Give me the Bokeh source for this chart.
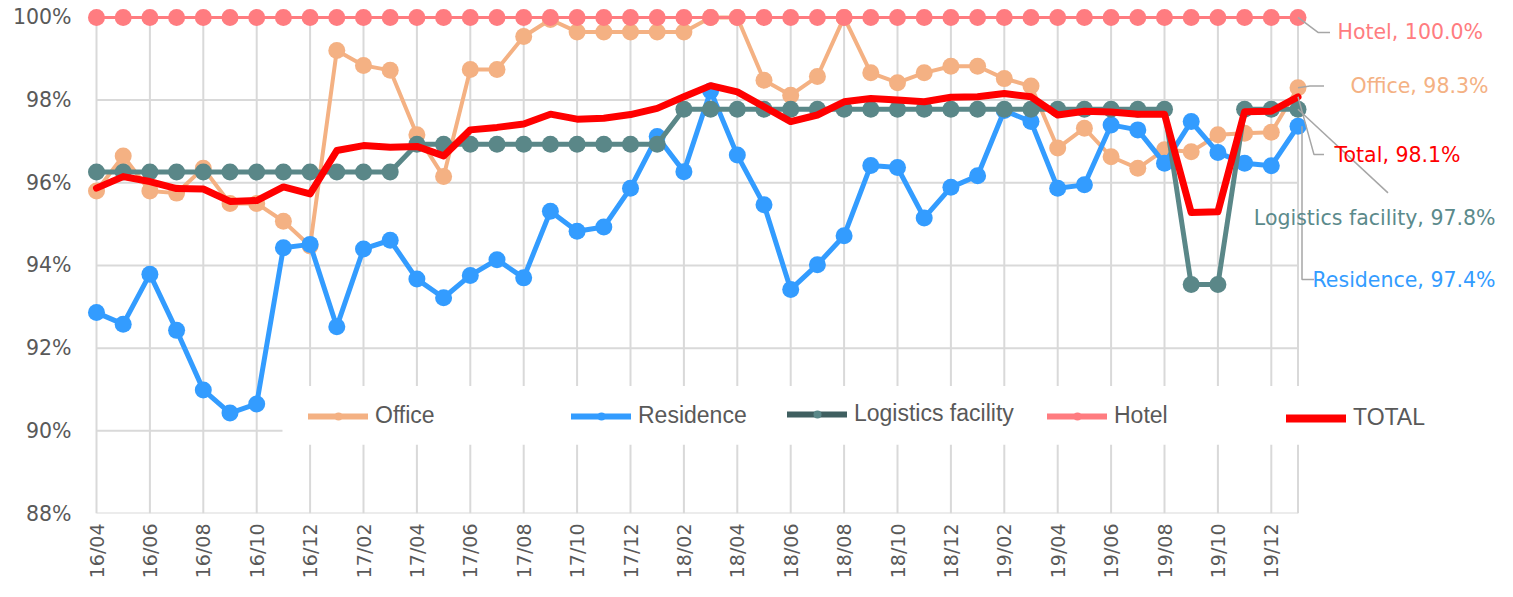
import numpy as np
from bokeh.plotting import figure
from bokeh.models import Range1d, FixedTicker, Legend, LegendItem, Label
from bokeh.embed import file_html
from bokeh.resources import INLINE

# ---------------- data ----------------
months = ["16/04", "16/05", "16/06", "16/07", "16/08", "16/09", "16/10", "16/11", "16/12",
          "17/01", "17/02", "17/03", "17/04", "17/05", "17/06", "17/07", "17/08", "17/09",
          "17/10", "17/11", "17/12",
          "18/01", "18/02", "18/03", "18/04", "18/05", "18/06", "18/07", "18/08", "18/09",
          "18/10", "18/11", "18/12",
          "19/01", "19/02", "19/03", "19/04", "19/05", "19/06", "19/07", "19/08", "19/09",
          "19/10", "19/11", "19/12",
          "20/01"]

y_ticks = [88, 90, 92, 94, 96, 98, 100]
y_tick_labels = ["88%", "90%", "92%", "94%", "96%", "98%", "100%"]

office = [95.80, 96.65, 95.80, 95.75, 96.35, 95.50, 95.50, 95.07, 94.47, 99.20,
          98.84, 98.72, 97.16, 96.15, 98.74, 98.74, 99.54, 99.95, 99.65, 99.65,
          99.65, 99.65, 99.65, 100.0, 100.0, 98.48, 98.12, 98.57, 100.0, 98.66,
          98.42, 98.66, 98.82, 98.82, 98.52, 98.34, 96.84, 97.32, 96.63, 96.35,
          96.80, 96.75, 97.16, 97.20, 97.22, 98.30]

residence = [92.86, 92.58, 93.79, 92.43, 90.99, 90.43, 90.65, 94.43, 94.51, 92.52,
             94.40, 94.61, 93.67, 93.22, 93.76, 94.14, 93.70, 95.31, 94.83, 94.93,
             95.87, 97.12, 96.27, 98.22, 96.67, 95.47, 93.42, 94.02, 94.72, 96.42,
             96.37, 95.15, 95.89, 96.17, 97.75, 97.48, 95.87, 95.95, 97.40, 97.28,
             96.47, 97.48, 96.73, 96.47, 96.41, 97.37]

logistics = [96.26, 96.26, 96.26, 96.26, 96.26, 96.26, 96.26, 96.26, 96.26, 96.26,
             96.26, 96.26, 96.93, 96.93, 96.93, 96.93, 96.93, 96.93, 96.93, 96.93,
             96.93, 96.93, 97.78, 97.78, 97.78, 97.78, 97.78, 97.78, 97.78, 97.78,
             97.78, 97.78, 97.78, 97.78, 97.78, 97.78, 97.78, 97.78, 97.78, 97.78,
             97.78, 93.54, 93.54, 97.78, 97.78, 97.78]

hotel = [100.0] * 46

total = [95.87, 96.15, 96.03, 95.86, 95.85, 95.55, 95.57, 95.90, 95.73, 96.78,
         96.90, 96.86, 96.88, 96.65, 97.28, 97.34, 97.42, 97.66, 97.54, 97.56,
         97.65, 97.80, 98.08, 98.35, 98.20, 97.84, 97.48, 97.64, 97.96, 98.04,
         98.00, 97.96, 98.07, 98.08, 98.16, 98.08, 97.64, 97.73, 97.71, 97.66,
         97.66, 95.28, 95.30, 97.72, 97.73, 98.08]

series_names = ["Office", "Residence", "Logistics facility", "Hotel", "TOTAL"]
end_labels = ["Office, 98.3%", "Residence, 97.4%", "Logistics facility, 97.8%",
              "Hotel, 100.0%", "Total, 98.1%"]

# ---------------- layout / scales ----------------
W, H = 1497, 581
PX_X, PX_Y = 26.7, 41.5          # pixels per month / per percent point
LEFT_B, BOTTOM_B = 86, 66
frame_w, frame_h = W - LEFT_B, H - BOTTOM_B
x_start = -10.0 / PX_X
y_top = 100 + 17.0 / PX_Y

n = len(months)
idx = list(range(n))

p = figure(width=W, height=H,
           x_range=Range1d(x_start, x_start + frame_w / PX_X),
           y_range=Range1d(y_top - frame_h / PX_Y, y_top),
           output_backend="svg", toolbar_location=None,
           min_border_left=LEFT_B, min_border_right=0,
           min_border_top=0, min_border_bottom=BOTTOM_B)
p.outline_line_color = None
p.grid.visible = False
p.background_fill_color = "white"
p.border_fill_color = "white"

GRID = "#D9D9D9"
TXT = "#595959"

# manual grid limited to the data area
vx = list(range(0, n, 2)) + [n - 1]
p.segment(x0=vx, y0=[y_ticks[0]] * len(vx), x1=vx, y1=[y_ticks[-1]] * len(vx),
          line_color=GRID, line_width=2)
p.segment(x0=[0] * len(y_ticks), y0=y_ticks, x1=[n - 1] * len(y_ticks), y1=y_ticks,
          line_color=GRID, line_width=2)


def dx(px):
    return px / PX_X


def dy(px):
    return px / PX_Y


# white legend background box
p.quad(left=[dx(186)], right=[n - 1 + dx(3)],
       bottom=[100 - dy(429)], top=[100 - dy(370)],
       fill_color="white", line_color=None)

# ---------------- series ----------------
colors = ["#F4B183", "#339CFF", "#5A8788", "#FF7C80", "#FF0000"]
legend_line_colors = ["#F4B183", "#339CFF", "#3F5F60", "#FF7C80", "#FF0000"]
widths = [4, 5, 5, 3, 7]
legend_widths = [6, 6, 6, 6, 8]
values = [office, residence, logistics, hotel, total]
markers = [True, True, True, True, False]

nan1 = np.array([np.nan])
rends = []
for name, vals, c, lc, lw, llw, mk in zip(series_names, values, colors, legend_line_colors,
                                         widths, legend_widths, markers):
    p.line(idx, vals, line_color=c, line_width=lw, line_join="round", line_cap="round")
    # legend-only swatch line (single NaN point, never visible in the plot)
    r = [p.line(nan1, nan1, line_color=lc, line_width=llw, line_cap="round")]
    if mk:
        r.append(p.scatter(idx, vals, size=17, fill_color=c, line_color=None))
    rends.append(r)

# ---------------- legends (one per item, exact placement) ----------------
leg_pos = [(222, 84), (485, 84), (701, 86), (961, 84), (1200, 82)]
for name, r, pos in zip(series_names, rends, leg_pos):
    lg = Legend(items=[LegendItem(label=name, renderers=r)], location=pos,
                padding=0, margin=0, spacing=0, glyph_width=60, glyph_height=20,
                label_height=20, label_standoff=7,
                label_text_font="Liberation Sans", label_text_font_size="23px",
                label_text_color=TXT, background_fill_alpha=0, border_line_alpha=0)
    p.add_layout(lg)

# ---------------- end labels with leader lines ----------------
# (series index, x offset px, y offset px (down), align)
lab_specs = [
    (3, 39.5, 15, "left"),
    (0, 52.5, -1.6, "left"),
    (4, 36.5, 58, "left"),
    (2, 197.5, 109, "right"),
    (1, 197.5, 154, "right"),
]
label_colors = ["#F4B183", "#339CFF", "#5B8A8B", "#FF7C80", "#FF0000"]
for si, ox, oy, al in lab_specs:
    p.add_layout(Label(x=n - 1, y=values[si][-1], x_offset=ox, y_offset=-oy,
                       text=end_labels[si], text_font="DejaVu Sans",
                       text_font_size="20.5px", text_color=label_colors[si],
                       text_align=al, text_baseline="middle"))

leader_px = [
    (3, [(0, 0), (20, 15), (32, 15)]),
    (0, [(0, 0), (12, -1.6), (26, -1.6)]),
    (4, [(0, 0), (16, 58), (26, 58)]),
    (2, [(0, 0), (90, 84)]),
    (1, [(4, 0), (4, 154), (16, 154)]),
]
lx, ly = [], []
for si, pts in leader_px:
    lx.append([n - 1 + dx(a) for a, b in pts])
    ly.append([values[si][-1] - dy(b) for a, b in pts])
p.multi_line(lx, ly, line_color="#A6A6A6", line_width=1.5)

# ---------------- axes ----------------
p.yaxis.ticker = FixedTicker(ticks=y_ticks)
p.yaxis.major_label_overrides = {t: s for t, s in zip(y_ticks, y_tick_labels)}
p.xaxis.ticker = FixedTicker(ticks=list(range(0, n, 2)))
p.xaxis.major_label_overrides = {i: months[i] for i in range(0, n, 2)}
p.xaxis.major_label_orientation = np.pi / 2
for ax in (p.xaxis, p.yaxis):
    ax.axis_line_color = None
    ax.major_tick_line_color = None
    ax.minor_tick_line_color = None
    ax.major_tick_out = 0
    ax.major_tick_in = 0
    ax.minor_tick_out = 0
    ax.minor_tick_in = 0
    ax.major_label_text_font = "DejaVu Sans"
    ax.major_label_text_color = TXT
p.yaxis.major_label_text_font_size = "20.5px"
p.yaxis.major_label_standoff = 15
p.xaxis.major_label_text_font_size = "19px"
p.xaxis.major_label_standoff = 10

open("out.html", "w").write(file_html(p, INLINE))
